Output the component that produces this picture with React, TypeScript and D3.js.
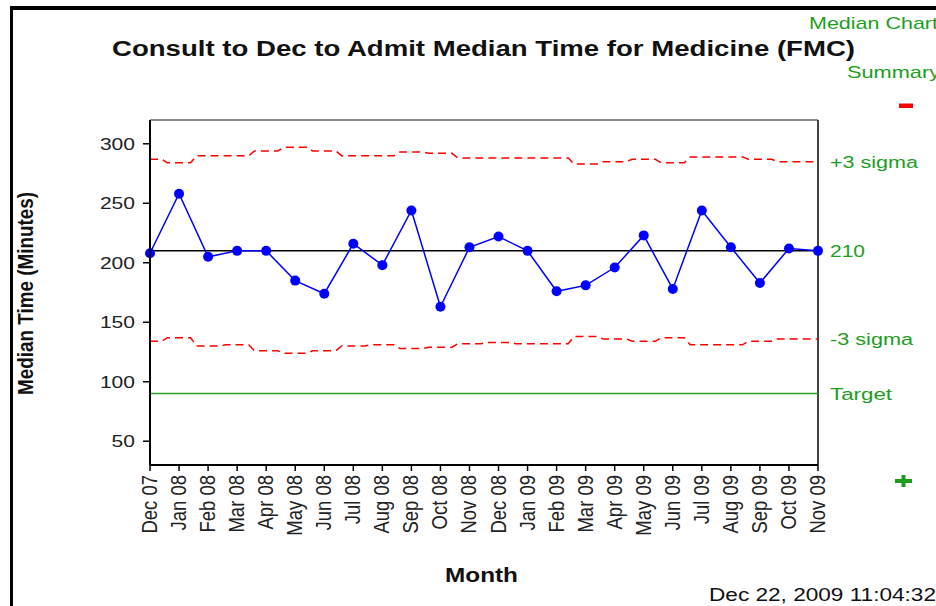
import React from "react";
import * as d3 from "d3";

const months = ["Dec 07","Jan 08","Feb 08","Mar 08","Apr 08","May 08","Jun 08","Jul 08","Aug 08","Sep 08","Oct 08","Nov 08","Dec 08","Jan 09","Feb 09","Mar 09","Apr 09","May 09","Jun 09","Jul 09","Aug 09","Sep 09","Oct 09","Nov 09"];
const medians = [208, 258, 205, 210, 210, 185, 174, 216, 198, 244, 163, 213, 222, 210, 176, 181, 196, 223, 178, 244, 213, 183, 212, 210];
const ucl = [287, 284, 290, 290, 294, 297, 294, 290, 290, 293, 292, 288, 288, 288, 288, 283, 285, 287, 284, 289, 289, 287, 285, 285];
const lcl = [134, 137, 130, 131, 126, 124, 126, 130, 131, 128, 129, 132, 133, 132, 132, 138, 136, 134, 137, 131, 131, 134, 136, 136];
const centerValue = 210;
const targetValue = 90;
const yTicks = [50, 100, 150, 200, 250, 300];

const FONT = "'Liberation Sans', Arial, sans-serif";
const GREEN = "#1c9e1c";

export default function App() {
  const left = 150, right = 818, top = 120, bottom = 465;
  const x = d3.scalePoint<string>().domain(months).range([left, right]).padding(0);
  const y = d3.scaleLinear().domain([30, 320]).range([bottom, top]);
  const step = x.step();

  const line = d3.line<number>().x((_, i) => x(months[i])!).y((d) => y(d));

  // limit lines: flat around each month, short slanted transitions between months
  const limitPath = (vals: number[]) => {
    const pts: [number, number][] = [];
    vals.forEach((v, i) => {
      const cx = x(months[i])!;
      const a = Math.max(left, cx - step * 0.4);
      const b = Math.min(right, cx + step * 0.4);
      pts.push([a, y(v)], [b, y(v)]);
    });
    return d3.line()(pts)!;
  };

  const rightLabels = [
    { text: "+3 sigma", v: ucl[ucl.length - 1], len: 88 },
    { text: String(centerValue), v: centerValue, len: 35 },
    { text: "-3 sigma", v: lcl[lcl.length - 1], len: 83 },
    { text: "Target", v: targetValue, len: 62 },
  ];

  return (
    <svg width={936} height={606} style={{ position: "absolute", left: 0, top: 0, background: "#fff" }} fontFamily={FONT}>
      <rect x={0} y={0} width={936} height={606} fill="#fff" />
      {/* outer frame */}
      <line x1={11.5} y1={6} x2={11.5} y2={606} stroke="#000" strokeWidth={3} />
      <line x1={10} y1={8} x2={936} y2={8} stroke="#000" strokeWidth={4} />

      {/* title */}
      <text x={112} y={56} fontSize={22} fontWeight="bold" fill="#111" textLength={743} lengthAdjust="spacingAndGlyphs">
        Consult to Dec to Admit Median Time for Medicine (FMC)
      </text>
      <text x={809} y={29} fontSize={17} fill={GREEN} textLength={129} lengthAdjust="spacingAndGlyphs">Median Chart</text>
      <text x={847} y={78} fontSize={17} fill={GREEN} textLength={93} lengthAdjust="spacingAndGlyphs">Summary</text>
      <rect x={899} y={103.5} width={14} height={4.5} fill="#ff0000" />
      <rect x={895} y={479} width={17} height={4} fill={GREEN} />
      <rect x={901.5} y={475} width={4} height={12} fill={GREEN} />

      {/* plot frame */}
      <line x1={left} y1={top} x2={right} y2={top} stroke="#666" strokeWidth={1.5} />
      <line x1={right} y1={top} x2={right} y2={bottom} stroke="#444" strokeWidth={2} />

      {/* control limits */}
      <path d={limitPath(ucl)} fill="none" stroke="#ff0000" strokeWidth={1.5} strokeDasharray="8,5" />
      <path d={limitPath(lcl)} fill="none" stroke="#ff0000" strokeWidth={1.5} strokeDasharray="8,5" />
      <line x1={left} x2={right} y1={y(centerValue)} y2={y(centerValue)} stroke="#000" strokeWidth={1.5} />
      <line x1={left} x2={right} y1={y(targetValue)} y2={y(targetValue)} stroke="#2ca02c" strokeWidth={1.5} />

      {/* data */}
      <path d={line(medians)!} fill="none" stroke="#0000ff" strokeWidth={1.5} />
      {medians.map((v, i) => (
        <circle key={i} cx={x(months[i])} cy={y(v)} r={5} fill="#0000ff" />
      ))}

      {/* axes */}
      <line x1={left} y1={top} x2={left} y2={bottom} stroke="#000" strokeWidth={2} />
      <line x1={left} y1={bottom} x2={right} y2={bottom} stroke="#000" strokeWidth={2} />
      {yTicks.map((t) => (
        <g key={t}>
          <line x1={143} x2={left} y1={y(t)} y2={y(t)} stroke="#000" strokeWidth={1.5} />
          <text x={135} y={y(t) + 6} fontSize={17} textAnchor="end" fill="#222" textLength={String(t).length * 11.7} lengthAdjust="spacingAndGlyphs">{t}</text>
        </g>
      ))}
      {months.map((m) => (
        <g key={m}>
          <line x1={x(m)} x2={x(m)} y1={bottom} y2={bottom + 6} stroke="#000" strokeWidth={1.5} />
          <text transform={`translate(${x(m)! + 7},${bottom + 10}) rotate(-90) scale(1,1.15)`} fontSize={18.5} textAnchor="end" fill="#222">{m}</text>
        </g>
      ))}

      {/* right labels */}
      {rightLabels.map((l) => (
        <text key={l.text} x={830} y={y(l.v) + 6} fontSize={16} fill={GREEN} textLength={l.len} lengthAdjust="spacingAndGlyphs">{l.text}</text>
      ))}

      {/* axis titles */}
      <text transform={`translate(33,293.5) rotate(-90) scale(1,1.2)`} fontSize={18.5} fontWeight="bold" textAnchor="middle" fill="#111" textLength={203} lengthAdjust="spacingAndGlyphs">
        Median Time (Minutes)
      </text>
      <text x={481.5} y={582} fontSize={20} fontWeight="bold" textAnchor="middle" fill="#111" textLength={73} lengthAdjust="spacingAndGlyphs">Month</text>
      <text x={709} y={601} fontSize={18} fill="#111" textLength={227} lengthAdjust="spacingAndGlyphs">Dec 22, 2009 11:04:32</text>
    </svg>
  );
}
